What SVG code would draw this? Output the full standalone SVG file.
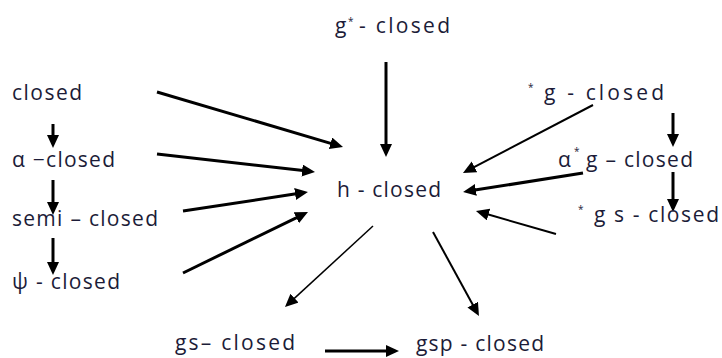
<svg xmlns="http://www.w3.org/2000/svg" width="722" height="358" viewBox="0 0 722 358">
<style>
text{font-family:"Open Sans","Liberation Sans",sans-serif;font-size:21px;fill:#1c1c38}
text.st{font-size:10px}
.c{stroke:#000;fill:none;stroke-width:3;marker-end:url(#ah)}
.t{stroke-width:2}
.tt{stroke-width:1.5}
</style>
<defs>
<marker id="ah" markerUnits="userSpaceOnUse" markerWidth="14" markerHeight="14" refX="1" refY="6" orient="auto"><path d="M0,0 L13,6 L0,12 z" fill="#000"/></marker>
</defs>
<rect width="722" height="358" fill="#fff"/>
<g id="connectors">
<line class="c" x1="157" y1="92" x2="331.5" y2="143.6"/>
<line class="c" x1="157" y1="154" x2="303.1" y2="170.6"/>
<line class="c" x1="183" y1="211" x2="296.1" y2="193.8"/>
<line class="c" x1="183" y1="273" x2="297.2" y2="217.3"/>
<line class="c" x1="386" y1="62" x2="386" y2="145"/>
<line class="c t" x1="593" y1="105" x2="473.6" y2="167.4"/>
<line class="c" x1="583" y1="173" x2="474.9" y2="190.1"/>
<line class="c t" x1="556" y1="234" x2="487.5" y2="214.3"/>
<line class="c tt" x1="373" y1="226" x2="293.8" y2="298.9"/>
<line class="c t" x1="433" y1="232" x2="473.2" y2="305.5"/>
<line class="c" x1="325" y1="351" x2="387" y2="351"/>
<line class="c" x1="53" y1="124" x2="53" y2="136"/>
<line class="c" x1="53" y1="180" x2="53" y2="203"/>
<line class="c" x1="53" y1="238" x2="53" y2="263"/>
<line class="c" x1="673" y1="113" x2="673" y2="135"/>
<line class="c" x1="673" y1="172" x2="673" y2="200"/>
</g>
<g id="g-star-closed"><text x="335" y="33">g</text><text class="st" x="348" y="25">*</text><text x="359" y="33" textLength="91" lengthAdjust="spacing">- closed</text></g>
<g id="closed"><text x="12" y="100" textLength="70" lengthAdjust="spacing">closed</text></g>
<g id="alpha-closed"><text x="12" y="167" textLength="103" lengthAdjust="spacing">α −closed</text></g>
<g id="semi-closed"><text x="12" y="226" textLength="146" lengthAdjust="spacing">semi – closed</text></g>
<g id="psi-closed"><text x="12" y="289" textLength="108" lengthAdjust="spacing">ψ - closed</text></g>
<g id="h-closed"><text x="337" y="197" textLength="104" lengthAdjust="spacing">h - closed</text></g>
<g id="star-g-closed"><text class="st" x="528" y="91">*</text><text x="544" y="100" textLength="120" lengthAdjust="spacing">g  -  closed</text></g>
<g id="alpha-star-g-closed"><text x="558" y="167">α</text><text class="st" x="574" y="155">*</text><text x="586" y="167" textLength="107" lengthAdjust="spacing">g – closed</text></g>
<g id="star-gs-closed"><text class="st" x="578" y="213">*</text><text x="594" y="222" textLength="125" lengthAdjust="spacing">g s  - closed</text></g>
<g id="gs-closed"><text x="175" y="350" textLength="120" lengthAdjust="spacing">gs– closed</text></g>
<g id="gsp-closed"><text x="416" y="351" textLength="128" lengthAdjust="spacing">gsp - closed</text></g>
</svg>
